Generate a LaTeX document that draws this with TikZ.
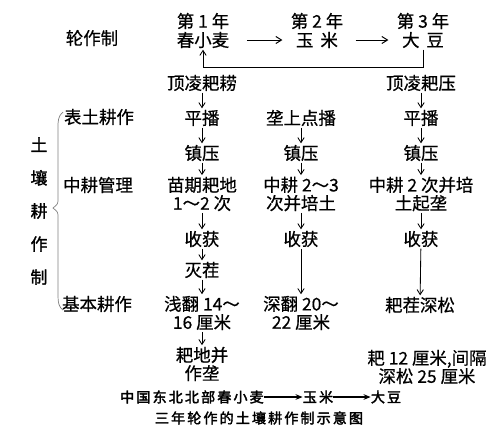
\documentclass[tikz,border=0pt]{standalone}
\usepackage{fontspec}
\setmainfont[FakeBold=0.6]{Noto Sans CJK SC}
\newfontfamily\capfont[FakeBold=2.5,LetterSpace=15]{Noto Sans CJK SC}
\newfontfamily\sidefont[FakeBold=1.5]{Noto Sans CJK SC}
\usetikzlibrary{arrows.meta}

\begin{document}
\begin{tikzpicture}[x=0.025cm,y=-0.025cm]

  % Estilos
  \tikzset{
    item/.style={
      inner sep=1pt,
      align=center,
      font=\fontsize{12.4}{13}\selectfont
    },
    flow/.style={
      line width=0.6pt,
      -{Straight Barb[length=3.5pt,width=4.5pt]}
    },
    rot/.style={
      line width=0.7pt,
      shorten <=4mm,
      shorten >=3mm,
      -{Straight Barb[length=4pt,width=5pt]}
    },
    titulo/.style={
      inner sep=0pt,
      font=\fontsize{10}{12}\capfont
    },
    titarr/.style={
      line width=1.1pt,
      -{Stealth[length=5pt,width=4pt]}
    }
  }

  \useasboundingbox (0,0) rectangle (500,437);

  % Rotación
  \node[item] (lz) at (92,38) {轮作制};
  \node[item] (y1) at (203,21) {第 1 年};
  \node[item] (c1) at (203,40) {春小麦};
  \node[item] (y2) at (317,21) {第 2 年};
  \node[item] (c2) at (317,40) {玉\hspace{.4em}米};
  \node[item] (y3) at (423,21) {第 3 年};
  \node[item] (c3) at (423,40) {大\hspace{.4em}豆};
  \coordinate (fb) at (0,67);

  % Columna 1
  \node[item] (a1) at (202,83) {顶凌耙耢};
  \node[item] (a2) at (202,118) {平播};
  \node[item] (a3) at (202,153) {镇压};
  \node[item] (a4) at (202,194) {苗期耙地\\1～2 次};
  \node[item] (a5) at (202,239) {收获};
  \node[item] (a6) at (202,270) {灭茬};
  \node[item] (a7) at (202,313) {浅翻 14～\\16 厘米};
  \node[item] (a8) at (202,364) {耙地并\\作垄};

  % Columna 2
  \node[item] (b1) at (301,118) {垄上点播};
  \node[item] (b2) at (301,153) {镇压};
  \node[item] (b3) at (301,194) {中耕 2～3\\次并培土};
  \node[item] (b4) at (301,239) {收获};
  \node[item] (b5) at (301,313) {深翻 20～\\22 厘米};

  % Columna 3
  \node[item] (d1) at (421,83) {顶凌耙压};
  \node[item] (d2) at (421,118) {平播};
  \node[item] (d3) at (421,153) {镇压};
  \node[item] (d4) at (421,194) {中耕 2 次并培\\土起垄};
  \node[item] (d5) at (421,239) {收获};
  \node[item] (d6) at (420,305) {耙茬深松};
  \node[item] (d7) at (427,367) {耙 12 厘米,间隔\\深松 25 厘米};

  % Izquierda
  \node[item, font=\fontsize{12}{23.5}\sidefont] (tr) at (39,211) {土\\壤\\耕\\作\\制};
  \node[item] (l1) at (99,117) {表土耕作};
  \node[item] (l2) at (98,185) {中耕管理};
  \node[item] (l3) at (97,304) {基本耕作};
  \draw[gray, line width=0.5pt] (63,112) .. controls (58,116) and (58,121) .. (58,128)
    -- (58,198) .. controls (58,204) .. (53,208) .. controls (58,212) .. (58,218)
    -- (58,296) .. controls (58,303) and (59,307) .. (63,310);

  % Líneas
  \draw[rot] (c1) -- (c2);
  \draw[rot] (c2) -- (c3);
  \draw[flow] (c3.south) -- (c3.south |- fb) -| (c1.south);

  \draw[flow] (a1) -- (a2);
  \draw[flow] (a2) -- (a3);
  \draw[flow] (a3) -- (a4);
  \draw[flow] (a4) -- (a5);
  \draw[flow] (a5) -- (a6);
  \draw[flow] (a6) -- (a7);
  \draw[flow] (a7) -- (a8);

  \draw[flow] (b1) -- (b2);
  \draw[flow] (b2) -- (b3);
  \draw[flow] (b3) -- (b4);
  \draw[flow] (b4) -- (b5);

  \draw[flow] (d1) -- (d2);
  \draw[flow] (d2) -- (d3);
  \draw[flow] (d3) -- (d4);
  \draw[flow] (d4) -- (d5);
  \draw[flow] (d5) -- (d6);

  % Título
  \node[titulo] (t1) at (192,397) {中国东北北部春小麦};
  \node[titulo] (t2) at (318,397) {玉米};
  \node[titulo] (t3) at (386,397) {大豆};
  \node[titulo] (t4) at (259,418) {三年轮作的土壤耕作制示意图};
  \draw[titarr] (t1) -- (t2);
  \draw[titarr] (t2) -- (t3);

\end{tikzpicture}
\end{document}
